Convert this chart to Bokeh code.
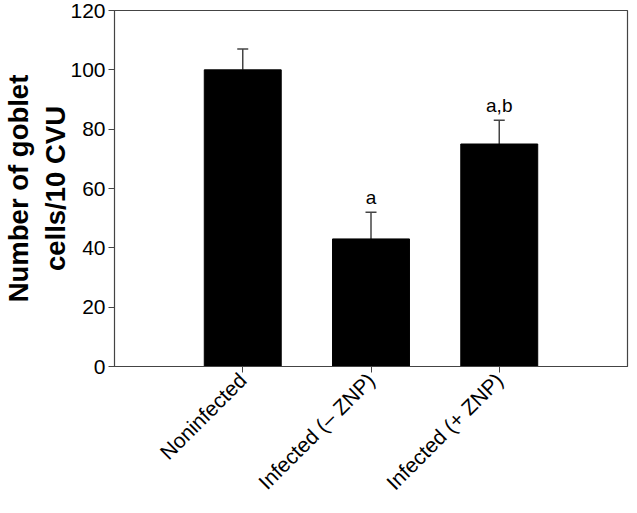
import math
from bokeh.plotting import figure
from bokeh.models import Range1d, FixedTicker, Whisker, ColumnDataSource, TeeHead
from bokeh.embed import file_html
from bokeh.resources import INLINE

categories = ["Noninfected", "Infected (\u2013 ZNP)", "Infected (+ ZNP)"]
means = [100, 43, 75]
errors = [7, 9, 8]
letters = ["", "a", "a,b"]
y_ticks = [0, 20, 40, 60, 80, 100, 120]

xpos = [i + 1 for i in range(len(categories))]
upper = [m + e for m, e in zip(means, errors)]

FONT = "Liberation Sans"
AX = "#444444"

p = figure(width=629, height=505, output_backend="svg", toolbar_location=None,
           x_range=Range1d(0, 4), y_range=Range1d(0, 120))
p.min_border_left = 113
p.min_border_right = 2
p.min_border_top = 10
p.min_border_bottom = 130
p.grid.visible = False
p.outline_line_color = AX
p.outline_line_width = 1.2
p.background_fill_color = "white"
p.border_fill_color = "white"

src = ColumnDataSource(dict(x=xpos, top=means, upper=upper, base=means, lab=letters))
p.vbar(x="x", top="top", bottom=0, width=0.6, source=src, fill_color="black", line_color="black")

w = Whisker(base="x", lower="base", upper="upper", source=src, line_color=AX, line_width=1.5,
            upper_head=TeeHead(size=11, line_color=AX, line_width=1.5), lower_head=None)
p.add_layout(w)

p.text(x="x", y="upper", text="lab", source=src, text_align="center", text_baseline="bottom",
       text_font_size="19px", text_font={"value": FONT}, text_color="black", y_offset=-4)

p.yaxis.ticker = FixedTicker(ticks=y_ticks)
p.yaxis.axis_label = "Number of goblet\ncells/10 CVU"
p.yaxis.axis_label_text_font = FONT
p.yaxis.axis_label_text_font_style = "bold"
p.yaxis.axis_label_text_font_size = "27.5px"
p.yaxis.axis_label_text_color = "black"
p.yaxis.axis_label_standoff = -4
p.yaxis.major_label_text_font = FONT
p.yaxis.major_label_text_font_size = "21px"
p.yaxis.major_label_text_color = "black"
p.yaxis.major_tick_out = 6
p.yaxis.major_tick_in = 0
p.yaxis.minor_tick_out = 0
p.yaxis.minor_tick_in = 0
p.yaxis.major_label_standoff = 3
p.yaxis.axis_line_color = AX
p.yaxis.major_tick_line_color = AX

p.xaxis.ticker = FixedTicker(ticks=xpos)
p.xaxis.major_label_overrides = {x: c for x, c in zip(xpos, categories)}
p.xaxis.major_label_orientation = math.pi / 4
p.xaxis.major_label_text_font = FONT
p.xaxis.major_label_text_font_size = "21px"
p.xaxis.major_label_text_color = "black"
p.xaxis.major_tick_out = 6
p.xaxis.major_tick_in = 0
p.xaxis.minor_tick_out = 0
p.xaxis.minor_tick_in = 0
p.xaxis.major_label_standoff = 4
p.xaxis.axis_line_color = AX
p.xaxis.major_tick_line_color = AX

open("out.html", "w").write(file_html(p, INLINE))
